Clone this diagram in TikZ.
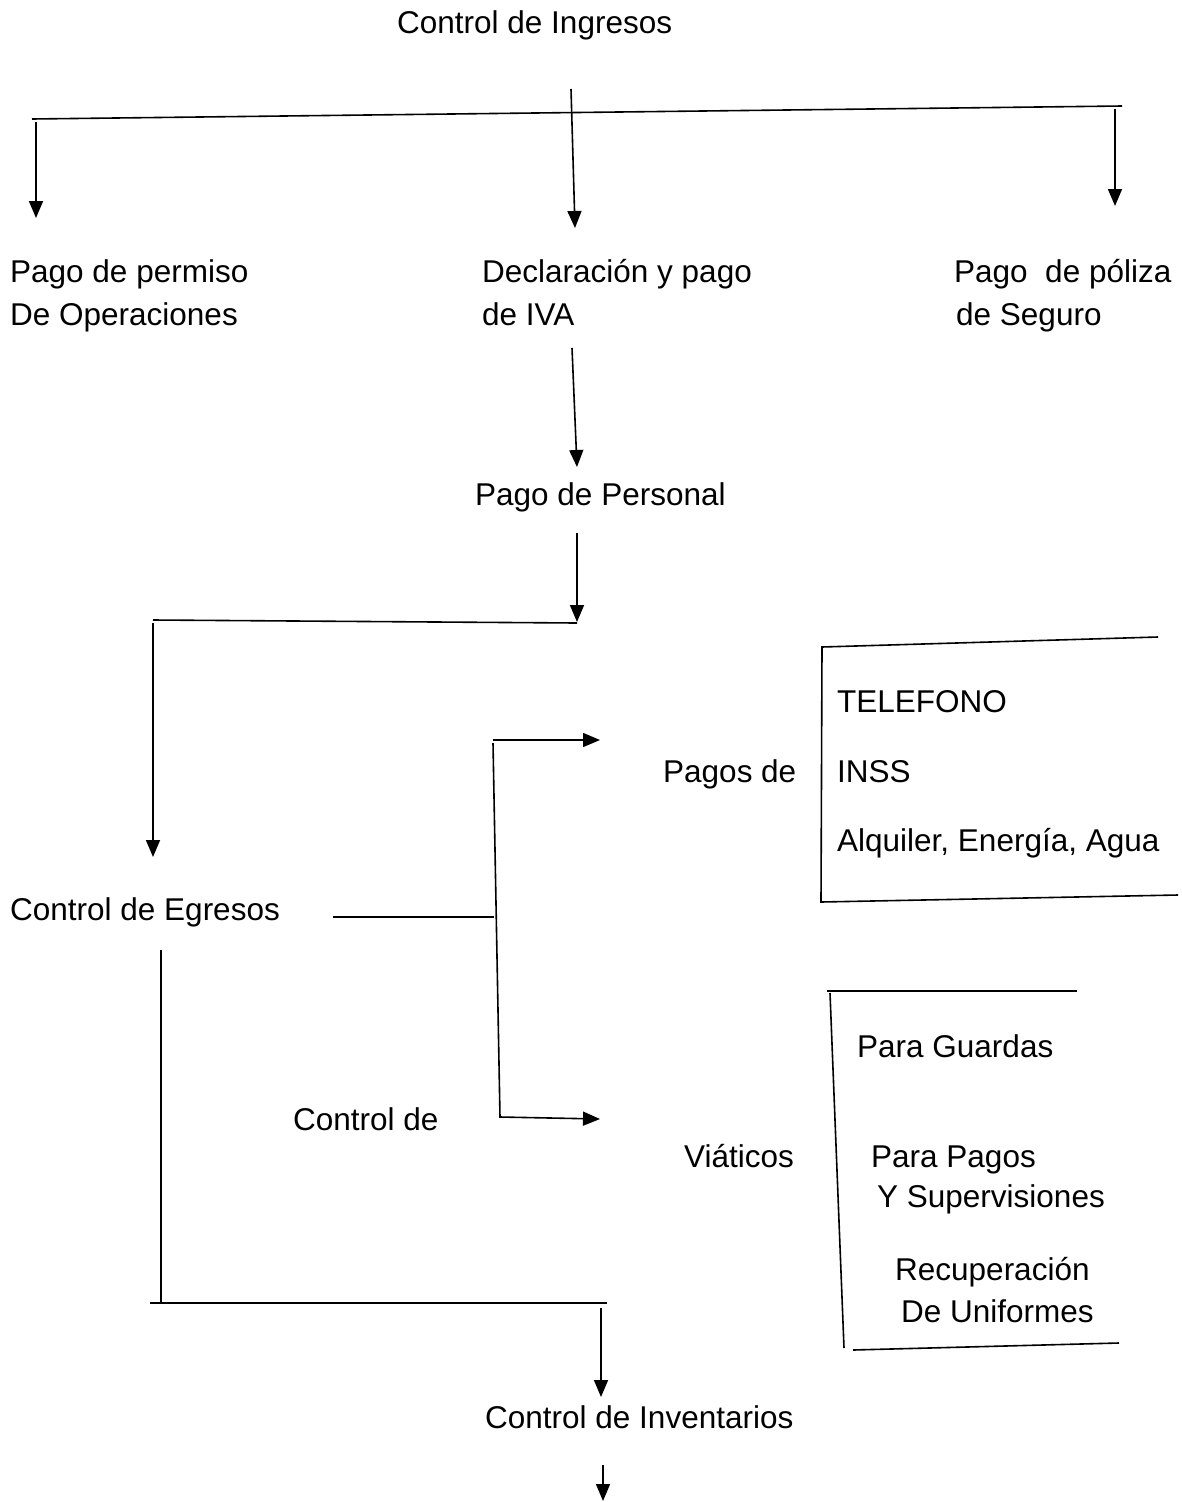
\documentclass[tikz,border=0pt]{standalone}
\usepackage{fontspec}
\setmainfont{Liberation Sans}
\usetikzlibrary{arrows.meta}
\begin{document}
\begin{tikzpicture}[x=1pt,y=-1pt,
  txt/.style={anchor=base west, inner sep=0pt, font=\fontsize{31.5}{38}\selectfont},
  ln/.style={line width=1.6pt},
  arr/.style={ln, -{Triangle[length=17pt,width=14pt]}}]
\useasboundingbox (0,0) rectangle (1182,1502);
% texts
\node[txt] (ingresos) at (397,33) {Control de Ingresos};
\node[txt] (perm1) at (10,282) {Pago de permiso};
\node[txt] (perm2) at (10,325) {De Operaciones};
\node[txt] (iva1) at (482,282) {Declaración y pago};
\node[txt] (iva2) at (482,325) {de IVA};
\node[txt] (pol1) at (954,282) {Pago\ \ de póliza};
\node[txt] (pol2) at (956,325) {de Seguro};
\node[txt] (personal) at (475,505) {Pago de Personal};
\node[txt] (egresos) at (10,920) {Control de Egresos};
\node[txt] (pagosde) at (663,782) {Pagos de};
\node[txt] (tel) at (837,712) {TELEFONO};
\node[txt] (inss) at (837,782) {INSS};
\node[txt] (alq) at (837,851) {Alquiler, Energía, Agua};
\node[txt] (controlde) at (293,1130) {Control de};
\node[txt] (viat) at (684,1167) {Viáticos};
\node[txt] (guardas) at (857,1057) {Para Guardas};
\node[txt] (ppagos) at (871,1167) {Para Pagos};
\node[txt] (superv) at (877,1207) {Y Supervisiones};
\node[txt] (recup) at (895,1280) {Recuperación};
\node[txt] (unif) at (901,1322) {De Uniformes};
\node[txt] (inv) at (485,1428) {Control de Inventarios};
% coordinates
\coordinate (t1) at (32,119);
\coordinate (t2) at (1122,106);
\coordinate (c0) at (571,89);
\coordinate (c1) at (575,228);
\coordinate (l0) at (36,122);
\coordinate (l1) at (36,218);
\coordinate (r0) at (1115,109);
\coordinate (r1) at (1115,206);
\coordinate (p0) at (572,348);
\coordinate (p1) at (577,467);
\coordinate (q0) at (577,533);
\coordinate (q1) at (577,622);
\coordinate (h0) at (153,620);
\coordinate (h1) at (577,623);
\coordinate (e0) at (153,623);
\coordinate (e1) at (153,857);
\coordinate (g0) at (333,917);
\coordinate (g1) at (494,917);
\coordinate (v0) at (493,740);
\coordinate (v1) at (600,740);
\coordinate (w0) at (493,743);
\coordinate (w1) at (500,1117);
\coordinate (w2) at (600,1119);
\coordinate (a0) at (1158,637);
\coordinate (a1) at (822,647);
\coordinate (a2) at (821,902);
\coordinate (a3) at (1178,895);
\coordinate (b0) at (827,991);
\coordinate (b1) at (1077,991);
\coordinate (b2) at (830,993);
\coordinate (b3) at (844,1348);
\coordinate (b4) at (853,1350);
\coordinate (b5) at (1119,1343);
\coordinate (d0) at (161,950);
\coordinate (d1) at (161,1303);
\coordinate (k0) at (150,1303);
\coordinate (k1) at (607,1303);
\coordinate (m0) at (601,1308);
\coordinate (m1) at (601,1397);
\coordinate (n0) at (603,1465);
\coordinate (n1) at (603,1501);
% connectors
\draw[ln] (t1) -- (t2);
\draw[arr] (c0) -- (c1);
\draw[arr] (l0) -- (l1);
\draw[arr] (r0) -- (r1);
\draw[arr] (p0) -- (p1);
\draw[arr] (q0) -- (q1);
\draw[ln] (h0) -- (h1);
\draw[arr] (e0) -- (e1);
\draw[ln] (g0) -- (g1);
\draw[arr] (v0) -- (v1);
\draw[arr] (w0) -- (w1) -- (w2);
\draw[ln] (a0) -- (a1) -- (a2) -- (a3);
\draw[ln] (b0) -- (b1);
\draw[ln] (b2) -- (b3);
\draw[ln] (b4) -- (b5);
\draw[ln] (d0) -- (d1);
\draw[ln] (k0) -- (k1);
\draw[arr] (m0) -- (m1);
\draw[arr] (n0) -- (n1);
\end{tikzpicture}
\end{document}
